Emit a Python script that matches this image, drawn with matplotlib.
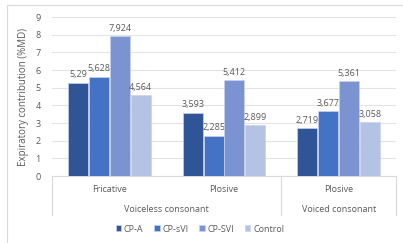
import numpy as np
import matplotlib
matplotlib.use('Agg')
import matplotlib.pyplot as plt
from matplotlib.patches import Rectangle

# data
groups = ['Fricative', 'Plosive', 'Plosive']
super_groups = ['Voiceless consonant', 'Voiced consonant']
series = ['CP-A', 'CP-sVI', 'CP-SVI', 'Control']
cp_a = [5.29, 3.593, 2.719]
cp_svi_small = [5.628, 2.285, 3.677]
cp_svi = [7.924, 5.412, 5.361]
control = [4.564, 2.899, 3.058]
colors = ['#2F5597', '#4472C4', '#7B93D1', '#B4C2E4']

W, H = 403, 243
fig = plt.figure(figsize=(W / 100, H / 100), dpi=100)
plt.rcParams['font.family'] = ['Open Sans', 'DejaVu Sans']

# outer frame (cropped at right and bottom in reference)
fig.add_artist(Rectangle((7 / W, -0.1), 1.2, 1 - 5 / H + 0.1, transform=fig.transFigure,
                         fill=False, edgecolor='#D9D9D9', linewidth=0.8))

ax = fig.add_axes([52 / W, 1 - 176 / H, (396 - 52) / W, (176 - 17) / H])

x = np.arange(len(groups))
bw = 0.175
step = 0.182
txt = '#595959'
all_vals = [cp_a, cp_svi_small, cp_svi, control]
for i, (name, vals) in enumerate(zip(series, all_vals)):
    pos = x + (i - 1.5) * step
    ax.bar(pos, vals, bw, color=colors[i], label=name, edgecolor='#C9D3EE', linewidth=0.5, zorder=3)
    for p, v in zip(pos, vals):
        ax.text(p, v + 0.18, str(v).replace('.', ','), ha='center', va='bottom',
                fontsize=6.5, color=txt)

ax.set_xlim(-0.5, 2.5)
ax.set_ylim(0, 9)
ax.set_yticks(range(10))
ax.tick_params(axis='y', length=0, labelsize=6.5, labelcolor=txt, pad=8)
ax.set_xticks([])
ax.grid(axis='y', color='#E3E3E3', linewidth=0.8, zorder=0)
for s in ['top', 'right', 'left']:
    ax.spines[s].set_visible(False)
ax.spines['bottom'].set_color('#D9D9D9')
ax.set_ylabel('Expiratory contribution (%MD)', fontsize=7, color=txt, labelpad=5)

# category axis labels and separators
tr = ax.get_xaxis_transform()
for xi, g in zip(x, groups):
    ax.text(xi, -13 / 159, g, transform=tr, ha='center', va='center', fontsize=6.5, color=txt)
ax.text(0.5, -33 / 159, super_groups[0], transform=tr, ha='center', va='center', fontsize=6.5, color=txt)
ax.text(2.0, -33 / 159, super_groups[1], transform=tr, ha='center', va='center', fontsize=6.5, color=txt)
for xs in [-0.5, 1.5, 2.5]:
    ax.plot([xs, xs], [0, -39 / 159], transform=tr, color='#D9D9D9', linewidth=0.8, clip_on=False)

fig.legend(loc='center', bbox_to_anchor=(200 / W, 1 - 229 / H), ncol=4, frameon=False,
           fontsize=6.5, handlelength=0.6, handleheight=0.6, handletextpad=0.3,
           columnspacing=1.2, labelcolor=txt)

fig.savefig('out.png', dpi=100)
